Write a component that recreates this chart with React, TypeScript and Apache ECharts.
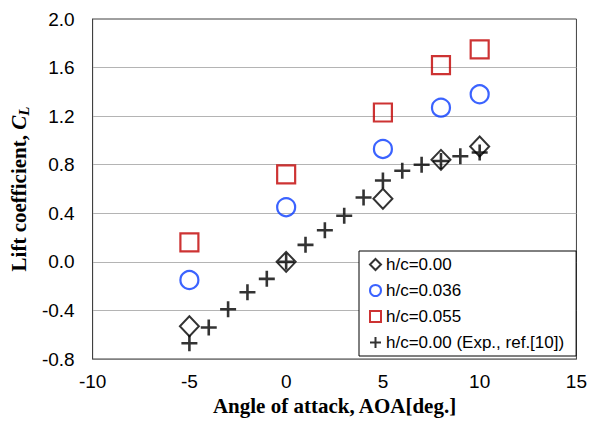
import React, { useEffect, useRef } from "react";
import * as echarts from "echarts";

const aoaSim = [-5, 0, 5, 8, 10];
const clH000 = [-0.53, 0.0, 0.52, 0.84, 0.95];
const clH036 = [-0.15, 0.45, 0.93, 1.27, 1.38];
const clH055 = [0.16, 0.72, 1.23, 1.62, 1.75];
const aoaExp = [-5, -4, -3, -2, -1, 0, 1, 2, 3, 4, 5, 6, 7, 8, 9, 10];
const clExp = [-0.67, -0.54, -0.39, -0.25, -0.14, 0.0, 0.14, 0.26, 0.38, 0.53, 0.67, 0.75, 0.8, 0.83, 0.87, 0.9];
const seriesNames = ["h/c=0.00", "h/c=0.036", "h/c=0.055", "h/c=0.00 (Exp., ref.[10])"];

const zip = (xs: number[], ys: number[]) => xs.map((x, i) => [x, ys[i]]);

export default function App() {
  const ref = useRef<HTMLDivElement>(null);
  useEffect(() => {
    if (!ref.current) return;
    const chart = echarts.init(ref.current, null, { renderer: "svg" });
    const plusPath = "path://M5,0 L5,10 M0,5 L10,5";
    chart.setOption({
      animation: false,
      grid: { left: 91, right: 11, top: 19, bottom: 65, show: true, borderColor: "#404040", borderWidth: 1, backgroundColor: "transparent" },
      xAxis: {
        type: "value",
        min: -10,
        max: 15,
        interval: 5,
        name: "Angle of attack, AOA[deg.]",
        nameLocation: "middle",
        nameGap: 36,
        nameTextStyle: { fontFamily: "Liberation Serif", fontWeight: "bold", fontSize: 21, color: "#000" },
        axisLine: { onZero: false, lineStyle: { color: "#808080", width: 1 } },
        axisTick: { show: false },
        splitLine: { show: false },
        axisLabel: { fontFamily: "Liberation Sans", fontSize: 19, color: "#000", margin: 13 },
      },
      yAxis: {
        type: "value",
        min: -0.8,
        max: 2.0,
        interval: 0.4,
        name: "Lift coefficient, {i|C}{s|L}",
        nameLocation: "middle",
        nameRotate: 90,
        nameGap: 61,
        nameTextStyle: {
          fontFamily: "Liberation Serif",
          fontWeight: "bold",
          fontSize: 21,
          color: "#000",
          rich: {
            i: { fontFamily: "Liberation Serif", fontWeight: "bold", fontStyle: "italic", fontSize: 21, color: "#000" },
            s: { fontFamily: "Liberation Serif", fontWeight: "bold", fontStyle: "italic", fontSize: 15, color: "#000", verticalAlign: "bottom", padding: [10, 0, 0, 0] },
          },
        },
        axisLine: { show: true, onZero: false, lineStyle: { color: "#404040", width: 1 } },
        axisTick: { show: false },
        splitLine: { showMaxLine: false, lineStyle: { color: "#b4b4b4", width: 1 } },
        axisLabel: { fontFamily: "Liberation Sans", fontSize: 19, color: "#000", margin: 18, formatter: (v: number) => v.toFixed(1) },
      },
      legend: {
        orient: "vertical",
        left: 359,
        top: 251,
        padding: [5, 12, 5, 10],
        itemGap: 9,
        itemWidth: 11,
        itemHeight: 11,
        itemTextGap: 2,
        backgroundColor: "#fff",
        borderColor: "#000",
        borderWidth: 1,
        textStyle: { fontFamily: "Liberation Sans", fontSize: 17, color: "#000" },
        data: seriesNames,
      },
      series: [
        {
          name: seriesNames[0],
          type: "scatter",
          data: zip(aoaSim, clH000),
          symbol: "diamond",
          symbolSize: [19, 20],
          itemStyle: { color: "transparent", borderColor: "#000", borderWidth: 2 },
          z: 2,
        },
        {
          name: seriesNames[1],
          type: "scatter",
          data: zip(aoaSim, clH036),
          symbol: "circle",
          symbolSize: 18,
          itemStyle: { color: "transparent", borderColor: "#0a3cff", borderWidth: 2.2 },
        },
        {
          name: seriesNames[2],
          type: "scatter",
          data: zip(aoaSim, clH055),
          symbol: "rect",
          symbolSize: 18,
          itemStyle: { color: "transparent", borderColor: "#c00000", borderWidth: 2.2 },
        },
        {
          name: seriesNames[3],
          type: "scatter",
          data: zip(aoaExp, clExp),
          symbol: plusPath,
          symbolSize: 16,
          itemStyle: { color: "transparent", borderColor: "#000", borderWidth: 2.6 },
          z: 3,
        },
      ],
    });
    return () => chart.dispose();
  }, []);
  return <div ref={ref} style={{ width: 590, height: 424, position: "absolute", left: 0, top: 0, background: "#fff" }} />;
}
